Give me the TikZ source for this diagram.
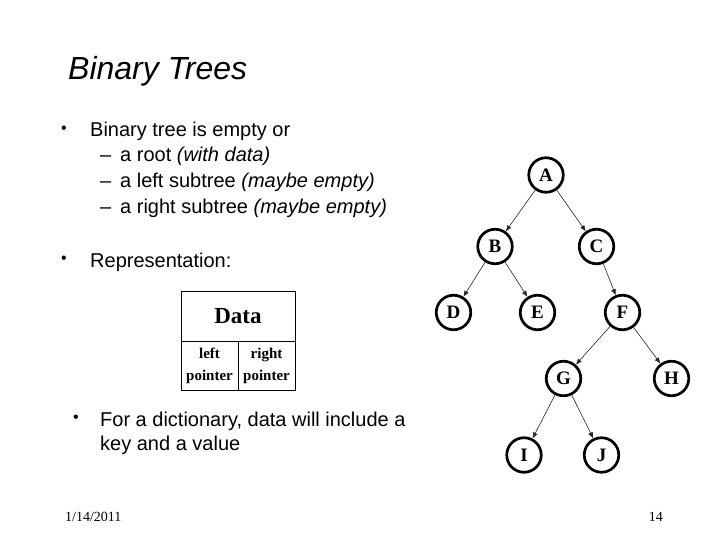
\documentclass[tikz,border=0pt]{standalone}
\usepackage{fontspec}
\setmainfont{Liberation Sans}
\newfontfamily\serifface{Liberation Serif}
\usetikzlibrary{arrows.meta}
\begin{document}
\begin{tikzpicture}[x=1pt,y=-1pt,
  treenode/.style={circle,draw,line width=2.7pt,minimum size=34.5pt,inner sep=0pt,
    font=\serifface\bfseries\fontsize{19}{22}\selectfont},
  edge/.style={-{Latex[length=6pt,width=5pt]},line width=0.6pt,draw=black!85},
  body/.style={anchor=base west,font=\fontsize{20}{24}\selectfont,inner sep=0pt},
  dot/.style={anchor=center,font=\fontsize{16}{18}\selectfont,inner sep=0pt},
  cell/.style={draw,line width=0.8pt,inner sep=0pt,align=center},
  foot/.style={inner sep=0pt,font=\serifface\fontsize{14}{16}\selectfont}
]
\useasboundingbox[fill=white] (0,0) rectangle (720,540);

% title
\node[anchor=base west,inner sep=0pt,font=\itshape\fontsize{32}{38}\selectfont] (title) at (68,80) {Binary Trees};

% bullets
\node[dot] (b1) at (64,130) {•};
\node[body] (t1) at (90,137) {Binary tree is empty or};
\node[body] (d1) at (100,162) {–};
\node[body] (s1) at (120,162) {a root \textit{(with data)}};
\node[body] (d2) at (100,188) {–};
\node[body] (s2) at (120,188) {a left subtree \textit{(maybe empty)}};
\node[body] (d3) at (100,213.5) {–};
\node[body] (s3) at (120,213.5) {a right subtree \textit{(maybe empty)}};
\node[dot] (b2) at (64,260) {•};
\node[body] (t2) at (90,267) {Representation:};
\node[dot] (b3) at (76,419) {•};
\node[body] (t3) at (100,426) {For a dictionary, data will include a};
\node[body] (t4) at (100,450) {key and a value};

% data box
\node[cell,minimum width=114pt,minimum height=50pt,font=\serifface\bfseries\fontsize{23}{26}\selectfont] (data) at (238,316) {Data};
\node[cell,minimum width=57pt,minimum height=49pt,font=\serifface\bfseries\fontsize{15}{22}\selectfont] (lptr) at (209.5,365.5) {left\\pointer};
\node[cell,minimum width=57pt,minimum height=49pt,font=\serifface\bfseries\fontsize{15}{22}\selectfont] (rptr) at (266.5,365.5) {right\\pointer};

% tree
\node[treenode] (A) at (546,175) {A};
\node[treenode] (B) at (495,246.5) {B};
\node[treenode] (C) at (596.5,246.5) {C};
\node[treenode] (D) at (453.5,312.5) {D};
\node[treenode] (E) at (537.5,312.5) {E};
\node[treenode] (F) at (622.5,312.5) {F};
\node[treenode] (G) at (563.5,378.5) {G};
\node[treenode] (H) at (671.5,378.5) {H};
\node[treenode] (I) at (524,455) {I};
\node[treenode] (J) at (601.5,455) {J};

\draw[edge] (A) -- (B);
\draw[edge] (A) -- (C);
\draw[edge] (B) -- (D);
\draw[edge] (B) -- (E);
\draw[edge] (C) -- (F);
\draw[edge] (F) -- (G);
\draw[edge] (F) -- (H);
\draw[edge] (G) -- (I);
\draw[edge] (G) -- (J);

% footer
\node[foot,anchor=base west] (date) at (65,521) {1/14/2011};
\node[foot,anchor=base east] (page) at (663,521) {14};
\end{tikzpicture}
\end{document}
